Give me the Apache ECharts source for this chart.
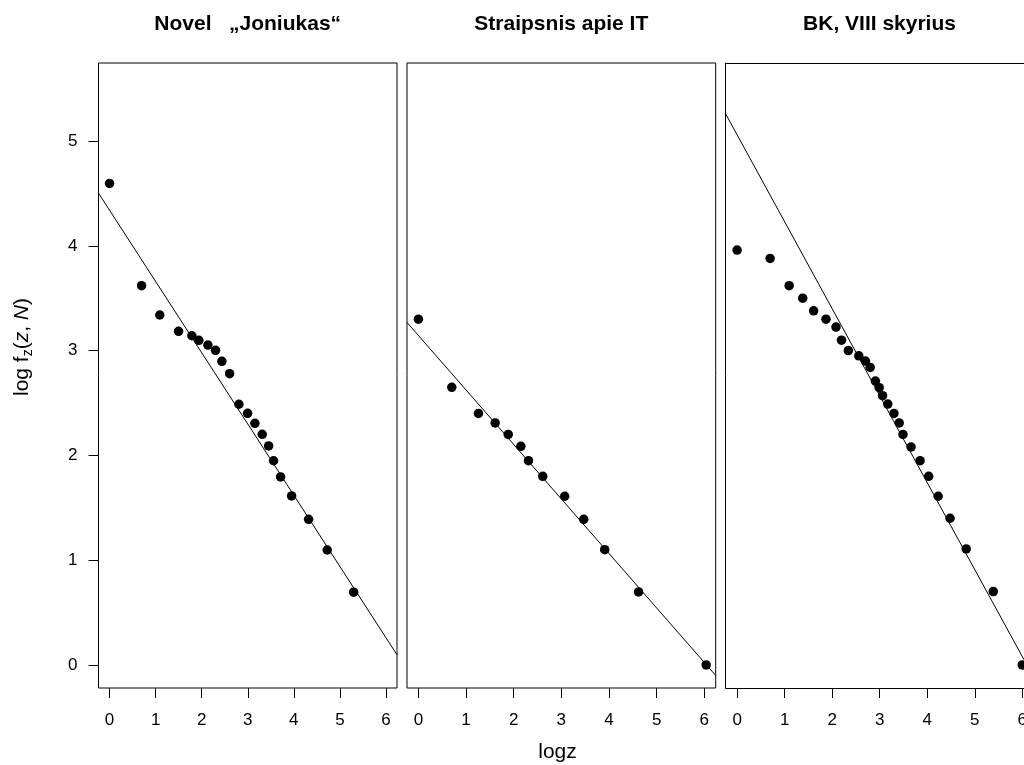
<!DOCTYPE html>
<html>
<head>
<meta charset="utf-8">
<script src="https://cdn.jsdelivr.net/npm/echarts@6/dist/echarts.min.js"></script>
<style>
html,body{margin:0;padding:0;background:#fff;}
#chart{width:1024px;height:765px;}
</style>
</head>
<body>
<div id="chart"></div>
<script>
// ---- Data ----
var panelTitles = ['Novel   \u201EJoniukas\u201C', 'Straipsnis apie IT', 'BK, VIII skyrius'];
var xTicks = [0, 1, 2, 3, 4, 5, 6];
var yTicks = [0, 1, 2, 3, 4, 5];

var p1x = [0, 0.695, 1.09, 1.498, 1.787, 1.939, 2.135, 2.30, 2.439, 2.606, 2.808, 2.997, 3.155, 3.314, 3.453, 3.561, 3.713, 3.952, 4.321, 4.725, 5.299];
var p1y = [4.596, 3.62, 3.34, 3.184, 3.142, 3.098, 3.053, 3.003, 2.898, 2.78, 2.488, 2.402, 2.306, 2.201, 2.09, 1.949, 1.794, 1.613, 1.39, 1.097, 0.694];

var p2x = [0, 0.70, 1.26, 1.61, 1.885, 2.15, 2.31, 2.61, 3.07, 3.47, 3.91, 4.62, 6.04];
var p2y = [3.30, 2.65, 2.40, 2.31, 2.20, 2.087, 1.95, 1.80, 1.61, 1.39, 1.10, 0.697, 0];

var p3x = [0, 0.695, 1.095, 1.38, 1.61, 1.87, 2.08, 2.196, 2.34, 2.56, 2.70, 2.80, 2.91, 2.99, 3.06, 3.17, 3.30, 3.41, 3.49, 3.66, 3.85, 4.03, 4.23, 4.48, 4.82, 5.39, 6.0];
var p3y = [3.96, 3.88, 3.62, 3.50, 3.38, 3.30, 3.225, 3.10, 3.00, 2.95, 2.90, 2.84, 2.71, 2.646, 2.57, 2.49, 2.40, 2.31, 2.20, 2.08, 1.95, 1.80, 1.61, 1.40, 1.107, 0.70, 0];

// fitted regression lines: intercept, slope
var fitIntercept = [4.34, 3.144, 5.06];
var fitSlope = [-0.680, -0.520, -0.830];

// ---- Layout ----
var FONT = '"Liberation Sans", Arial, Helvetica, sans-serif';
var YMIN = -0.22, YMAX = 5.745;
// third panel runs past the right edge of the picture: its visible part ends at x = 6.036
var xMin = [-0.24, -0.24, -0.24];
var xMax = [6.24, 6.24, 6.036];
var grids = [
  {left: 98.5, top: 63, width: 298.5, height: 625, border: true},
  {left: 407, top: 63, width: 308.7, height: 625, border: true},
  {left: 725.7, top: 63, width: 298.3, height: 625, border: false}
];

function zip(a, b) { var r = []; for (var i = 0; i < a.length; i++) r.push([a[i], b[i]]); return r; }
var xs = [p1x, p2x, p3x], ys = [p1y, p2y, p3y];
var AX = {color: '#000', width: 1};

var option = {
  animation: false,
  backgroundColor: '#fff',
  grid: grids.map(function (g) {
    return {left: g.left, top: g.top, width: g.width, height: g.height, show: g.border, borderColor: '#000', borderWidth: 1, backgroundColor: 'transparent', containLabel: false, outerBoundsMode: 'none'};
  }),
  xAxis: grids.map(function (g, i) {
    return {
      type: 'value', gridIndex: i, min: xMin[i], max: xMax[i], position: 'bottom',
      axisLine: {show: !g.border, onZero: false, lineStyle: AX},
      splitLine: {show: false},
      axisTick: {show: true, inside: false, length: 10, lineStyle: AX, customValues: xTicks},
      axisLabel: {show: true, margin: 24, fontSize: 17, color: '#000', fontFamily: FONT, customValues: xTicks, hideOverlap: false}
    };
  }).concat([{
    // top frame line of the third panel
    type: 'value', gridIndex: 2, min: xMin[2], max: xMax[2], position: 'top',
    axisLine: {show: true, onZero: false, lineStyle: AX},
    splitLine: {show: false}, axisTick: {show: false}, axisLabel: {show: false}
  }]),
  yAxis: grids.map(function (g, i) {
    return {
      type: 'value', gridIndex: i, min: YMIN, max: YMAX, position: 'left',
      axisLine: {show: !g.border, onZero: false, lineStyle: AX},
      splitLine: {show: false},
      axisTick: {show: i === 0, inside: false, length: 10, lineStyle: AX, customValues: yTicks},
      axisLabel: {show: i === 0, margin: 21, fontSize: 17, color: '#000', fontFamily: FONT, customValues: yTicks}
    };
  }),
  series: [],
  graphic: []
};

var titleCenters = [247.7, 561.3, 879.5];
for (var i = 0; i < 3; i++) {
  option.series.push({
    type: 'scatter', xAxisIndex: i, yAxisIndex: i,
    data: zip(xs[i], ys[i]),
    symbol: 'circle', symbolSize: 9.5, clip: false,
    itemStyle: {color: '#000', opacity: 1},
    silent: true
  });
  option.series.push({
    type: 'line', xAxisIndex: i, yAxisIndex: i,
    data: [[xMin[i], fitIntercept[i] + fitSlope[i] * xMin[i]], [xMax[i], fitIntercept[i] + fitSlope[i] * xMax[i]]],
    symbol: 'none', clip: true,
    lineStyle: {color: '#000', width: 1},
    silent: true
  });
  option.graphic.push({
    type: 'text', x: titleCenters[i], y: 24,
    style: {text: panelTitles[i], fontSize: 21, fontWeight: 'bold', fontFamily: FONT, fill: '#000', align: 'center', verticalAlign: 'middle'}
  });
}

option.graphic.push({
  type: 'text', x: 557.5, y: 752,
  style: {text: 'logz', fontSize: 21, fontFamily: FONT, fill: '#000', align: 'center', verticalAlign: 'middle'}
});
option.graphic.push({
  type: 'text', x: 22, y: 347, rotation: Math.PI / 2,
  style: {
    text: '{n|log f}{s|z}{n|(}{i|z}{n|, }{i|N}{n|)}',
    align: 'center', verticalAlign: 'middle',
    rich: {
      n: {fontSize: 21, fontFamily: FONT, fill: '#000', lineHeight: 30},
      i: {fontSize: 21, fontFamily: FONT, fontStyle: 'italic', fill: '#000', lineHeight: 30},
      s: {fontSize: 14, fontFamily: FONT, fill: '#000', lineHeight: 30, padding: [12, 0, 0, 0]}
    }
  }
});

var chart = echarts.init(document.getElementById('chart'), null, {renderer: 'canvas'});
chart.setOption(option);
</script>
</body>
</html>
